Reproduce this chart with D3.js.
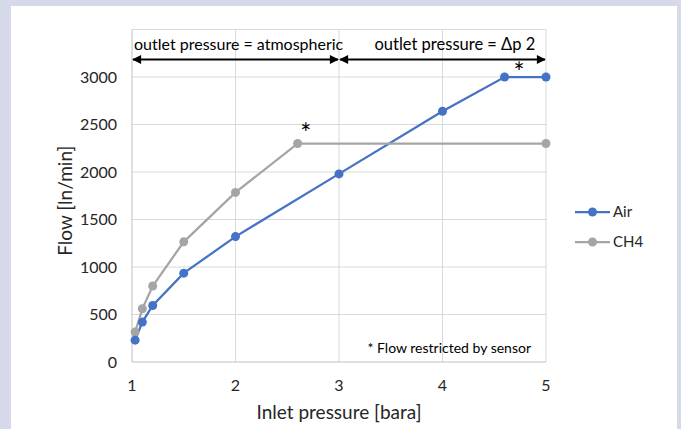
<!DOCTYPE html>
<html>
<head>
<meta charset="utf-8">
<script src="https://cdn.jsdelivr.net/npm/d3@7"></script>
<style>
  body { margin: 0; background: #d6d9e9; }
  svg { display: block; font-family: Lato, "Open Sans", sans-serif; }
</style>
</head>
<body>
<svg width="681" height="429"></svg>
<script>
var airX = [1.03, 1.1, 1.2, 1.5, 2, 3, 4, 4.6, 5];
var airY = [230, 420, 595, 935, 1320, 1980, 2640, 3000, 3000];
var ch4X = [1.03, 1.1, 1.2, 1.5, 2, 2.6, 5];
var ch4Y = [315, 560, 800, 1265, 1785, 2300, 2300];
var xTicks = [1, 2, 3, 4, 5];
var yTicks = [0, 500, 1000, 1500, 2000, 2500, 3000, 3500];
var yLabels = [0, 500, 1000, 1500, 2000, 2500, 3000];
var seriesNames = ["Air", "CH4"];
var colors = ["#4472c4", "#a5a5a5"];

var air = airX.map((x, i) => ({x: x, y: airY[i]}));
var ch4 = ch4X.map((x, i) => ({x: x, y: ch4Y[i]}));
var series = [air, ch4];

var svg = d3.select("svg");
svg.append("rect").attr("x", 11).attr("y", 6).attr("width", 666).attr("height", 423).attr("fill", "#fff");

var margin = {top: 29.5, left: 132},
    width = 414, height = 332.5,
    g = svg.append("g").attr("transform", "translate(" + margin.left + "," + margin.top + ")");

var x = d3.scaleLinear().domain([1, 5]).range([0, width]);
var y = d3.scaleLinear().domain([0, 3500]).range([height, 0]);

// gridlines
g.selectAll(".hg").data(yTicks.slice(1)).enter().append("line")
    .attr("x1", 0).attr("x2", width)
    .attr("y1", d => y(d)).attr("y2", d => y(d))
    .attr("stroke", "#d9d9d9").attr("stroke-width", 1);
g.selectAll(".vg").data(xTicks.slice(1)).enter().append("line")
    .attr("x1", d => x(d)).attr("x2", d => x(d))
    .attr("y1", 0).attr("y2", height)
    .attr("stroke", "#d9d9d9").attr("stroke-width", 1);

// axes lines
g.append("line").attr("x1", 0).attr("x2", 0).attr("y1", 0).attr("y2", height)
    .attr("stroke", "#bfbfbf");
g.append("line").attr("x1", 0).attr("x2", width).attr("y1", height).attr("y2", height)
    .attr("stroke", "#bfbfbf");

// tick labels
g.selectAll(".yl").data(yLabels).enter().append("text")
    .attr("x", -15).attr("y", d => y(d)).attr("dy", "0.35em")
    .attr("text-anchor", "end").attr("font-size", 16).attr("fill", "#262626")
    .text(d => d);
g.selectAll(".xl").data(xTicks).enter().append("text")
    .attr("x", d => x(d)).attr("y", height + 23).attr("dy", "0.35em")
    .attr("text-anchor", "middle").attr("font-size", 16).attr("fill", "#262626")
    .text(d => d);

// axis titles
g.append("text").attr("x", x(3)).attr("y", height + 50).attr("dy", "0.35em")
    .attr("text-anchor", "middle").attr("font-size", 19).attr("fill", "#262626")
    .text("Inlet pressure [bara]");
g.append("text").attr("transform", "translate(-67," + (height / 2 + 5) + ") rotate(-90)")
    .attr("dy", "0.35em").attr("text-anchor", "middle").attr("font-size", 19).attr("fill", "#262626")
    .text("Flow [ln/min]");

// lines
var line = d3.line().x(d => x(d.x)).y(d => y(d.y));
series.forEach(function(s, i) {
  g.append("path").datum(s).attr("fill", "none")
      .attr("stroke", colors[i]).attr("stroke-width", 2.25).attr("d", line);
});
series.slice().reverse().forEach(function(s, j) {
  var i = 1 - j;
  g.selectAll(".pt" + i).data(s).enter().append("circle")
      .attr("cx", d => x(d.x)).attr("cy", d => y(d.y)).attr("r", 4.5)
      .attr("fill", colors[i]);
});

// asterisks
g.append("text").attr("x", x(2.68)).attr("y", y(2300) - 1).attr("text-anchor", "middle")
    .attr("font-size", 26).attr("fill", "#000").text("*");
g.append("text").attr("x", x(4.74)).attr("y", y(3000) + 5).attr("text-anchor", "middle")
    .attr("font-size", 26).attr("fill", "#000").text("*");

// top annotations with double arrows
var defs = svg.append("defs");
defs.append("marker").attr("id", "ah").attr("viewBox", "0 0 10 10")
    .attr("refX", 9).attr("refY", 5).attr("markerWidth", 11).attr("markerHeight", 9)
    .attr("markerUnits", "userSpaceOnUse").attr("orient", "auto-start-reverse")
    .append("path").attr("d", "M0,0 L10,5 L0,10 z").attr("fill", "#000");

[[1, 3], [3, 5]].forEach(function(r) {
  g.append("line").attr("x1", x(r[0]) + 1).attr("x2", x(r[1]) - 1)
      .attr("y1", 30).attr("y2", 30)
      .attr("stroke", "#000").attr("stroke-width", 2)
      .attr("marker-start", "url(#ah)").attr("marker-end", "url(#ah)");
});
g.append("text").attr("x", 2).attr("y", 15).attr("dy", "0.35em")
    .attr("font-size", 16).attr("fill", "#000").text("outlet pressure = atmospheric");
g.append("text").attr("x", x(4.12)).attr("y", 15).attr("dy", "0.35em").attr("text-anchor", "middle")
    .attr("font-size", 16.5).attr("fill", "#000").text("outlet pressure = Δp 2");

g.append("text").attr("x", width - 15).attr("y", height - 14).attr("dy", "0.35em").attr("text-anchor", "end")
    .attr("font-size", 14).attr("fill", "#000").text("* Flow restricted by sensor");

// legend
var lg = svg.append("g").attr("transform", "translate(575,212)");
seriesNames.forEach(function(n, i) {
  var row = lg.append("g").attr("transform", "translate(0," + i * 30 + ")");
  row.append("line").attr("x1", 0).attr("x2", 35).attr("stroke", colors[i]).attr("stroke-width", 2.25);
  row.append("circle").attr("cx", 17.5).attr("r", 4.5).attr("fill", colors[i]);
  row.append("text").attr("x", 38).attr("dy", "0.35em").attr("font-size", 15).attr("fill", "#262626").text(n);
});
</script>
</body>
</html>
